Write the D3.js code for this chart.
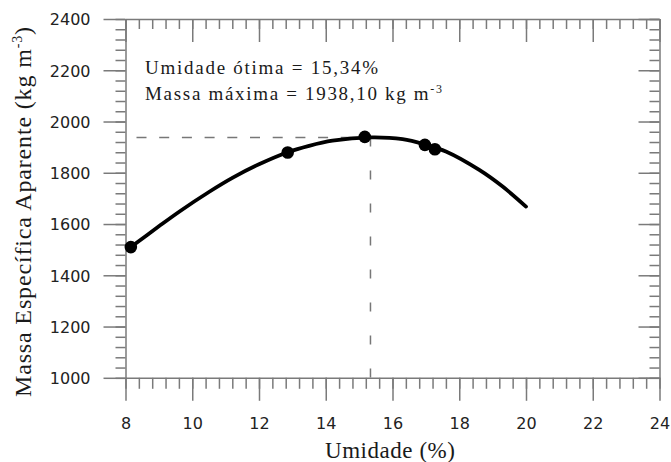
<!DOCTYPE html>
<html>
<head>
<meta charset="utf-8">
<script src="https://cdn.jsdelivr.net/npm/d3@7"></script>
<style>
  body { margin: 0; background: #fff; }
  .axis path, .axis line { stroke: #7a7a7a; stroke-width: 1.5; }
  .axis text { font-family: 'DejaVu Sans', sans-serif; font-size: 16px; fill: #222; }
  text.serif { font-family: "Liberation Serif", "DejaVu Serif", "Noto Serif", serif; fill: #1a1a1a; }
</style>
</head>
<body>
<div id="chart"></div>
<script>
// values
const curveX = [8.16, 9.0, 9.63, 10.5, 11.23, 12.0, 12.86, 13.5, 14.2, 15.34, 16.3, 17.0, 17.6, 18.6, 19.3, 20.0];
const curveY = [1510, 1591, 1650, 1725, 1782, 1833, 1880, 1905, 1925, 1938, 1931, 1909, 1883, 1811, 1746, 1668];
const pointX = [8.16, 12.86, 15.17, 16.97, 17.27];
const pointY = [1510, 1879, 1940, 1909, 1892];
const optX = 15.34;
const optY = 1938.10;
const xTicks = [8, 10, 12, 14, 16, 18, 20, 22, 24];
const yTicks = [1000, 1200, 1400, 1600, 1800, 2000, 2200, 2400];
const xMinor = d3.range(8, 24.001, 0.4);
const yMinor = d3.range(1000, 2400.1, 40);

const W = 671, H = 462;
const pLeft = 125.5, pRight = 659.5, pTop = 19, pBottom = 377.8;

const svg = d3.select('#chart').append('svg')
  .attr('width', W)
  .attr('height', H);

const x = d3.scaleLinear().domain([8, 24]).range([pLeft, pRight]);
const y = d3.scaleLinear().domain([1000, 2400]).range([pBottom, pTop]);

// minor ticks (no labels, no domain)
function minor(axis, tr) {
  svg.append('g').attr('class', 'axis').attr('transform', tr)
    .call(axis.tickFormat('').tickSizeOuter(0))
    .call(g => g.select('.domain').remove());
}
minor(d3.axisBottom(x).tickValues(xMinor).tickSize(11), `translate(0,${pBottom})`);
minor(d3.axisTop(x).tickValues(xMinor).tickSize(-10), `translate(0,${pTop})`);
minor(d3.axisLeft(y).tickValues(yMinor).tickSize(10), `translate(${pLeft},0)`);
minor(d3.axisRight(y).tickValues(yMinor).tickSize(-10), `translate(${pRight},0)`);

// major ticks
const xAxisG = svg.append('g').attr('class', 'axis')
  .attr('transform', `translate(0,${pBottom})`)
  .call(d3.axisBottom(x).tickValues(xTicks).tickSize(23).tickSizeOuter(0).tickPadding(17).tickFormat(d3.format('d')));
svg.append('g').attr('class', 'axis')
  .attr('transform', `translate(0,${pTop})`)
  .call(d3.axisTop(x).tickValues(xTicks).tickSize(-23).tickSizeOuter(0).tickFormat(''));
const yAxisG = svg.append('g').attr('class', 'axis')
  .attr('transform', `translate(${pLeft},0)`)
  .call(d3.axisLeft(y).tickValues(yTicks).tickSize(22).tickSizeOuter(0).tickPadding(13).tickFormat(d3.format('d')));
svg.append('g').attr('class', 'axis')
  .attr('transform', `translate(${pRight},0)`)
  .call(d3.axisRight(y).tickValues(yTicks).tickSize(-21).tickSizeOuter(0).tickFormat(''));

xAxisG.selectAll('text').attr('dy', '0.73em');
yAxisG.selectAll('text').attr('dy', '0.36em');

// dashed guides
svg.append('line')
  .attr('x1', x(8)).attr('x2', x(optX))
  .attr('y1', y(optY)).attr('y2', y(optY))
  .attr('stroke', '#777').attr('stroke-width', 1.5)
  .attr('stroke-dasharray', '10,12.7')
  .attr('stroke-dashoffset', -11);
svg.append('line')
  .attr('x1', x(optX)).attr('x2', x(optX))
  .attr('y1', y(optY)).attr('y2', y(1000))
  .attr('stroke', '#777').attr('stroke-width', 1.5)
  .attr('stroke-dasharray', '9,24');

// fitted curve
const line = d3.line()
  .x((d, i) => x(curveX[i]))
  .y(d => y(d))
  .curve(d3.curveCatmullRom);
svg.append('path')
  .attr('d', line(curveY))
  .attr('fill', 'none')
  .attr('stroke', '#000')
  .attr('stroke-width', 3.8)
  .attr('stroke-linecap', 'round');

// measured points
svg.selectAll('circle.pt')
  .data(pointY)
  .enter()
  .append('circle')
  .attr('class', 'pt')
  .attr('cx', (d, i) => x(pointX[i]))
  .attr('cy', d => y(d))
  .attr('r', 6.3)
  .attr('fill', '#000');

// annotation
svg.append('text')
  .attr('class', 'serif')
  .attr('x', 145).attr('y', 74)
  .attr('font-size', '19px')
  .attr('textLength', 233)
  .attr('lengthAdjust', 'spacing')
  .text('Umidade ótima = 15,34%');
const t2 = svg.append('text')
  .attr('class', 'serif')
  .attr('x', 145).attr('y', 100)
  .attr('font-size', '19px')
  .attr('textLength', 297)
  .attr('lengthAdjust', 'spacing');
t2.append('tspan').text('Massa máxima = 1938,10 kg m');
t2.append('tspan').attr('dy', -7).attr('font-size', '12px').text('-3');

// axis titles
svg.append('text')
  .attr('class', 'serif')
  .attr('x', 390).attr('y', 457.5)
  .attr('text-anchor', 'middle')
  .attr('font-size', '23px')
  .attr('textLength', 130)
  .attr('lengthAdjust', 'spacing')
  .text('Umidade (%)');

const yl = svg.append('text')
  .attr('class', 'serif')
  .attr('transform', 'translate(31,212) rotate(-90)')
  .attr('text-anchor', 'middle')
  .attr('font-size', '24px')
  .attr('textLength', 370)
  .attr('lengthAdjust', 'spacing');
yl.append('tspan').text('Massa Específica Aparente (kg m');
yl.append('tspan').attr('dy', -9).attr('font-size', '14px').text('-3');
yl.append('tspan').attr('dy', 9).text(')');
</script>
</body>
</html>
